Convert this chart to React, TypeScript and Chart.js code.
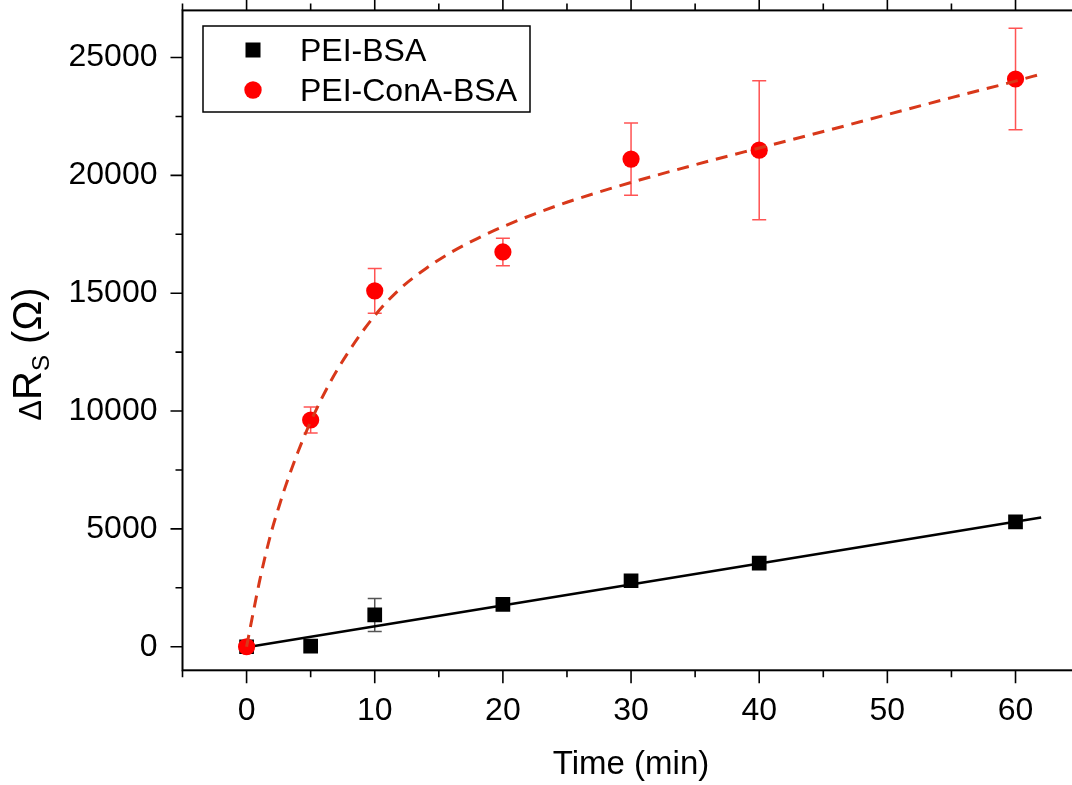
import React, { useEffect, useRef } from "react";
import { Chart, registerables } from "chart.js";

Chart.register(...registerables);

// ---- data ----
const timeMin = [0, 5, 10, 20, 30, 40, 60];
const bsaValues = [0, 30, 1350, 1800, 2800, 3550, 5300];
const bsaErrors = [0, 0, 700, 0, 0, 0, 0];
const conaValues = [0, 9620, 15100, 16750, 20690, 21070, 24090];
const conaErrors = [0, 550, 950, 580, 1530, 2950, 2150];

const bsaFitX = [0, 62];
const bsaFitY = [-20, 5480];
const conaFitX = [0, 0.5, 1, 1.5, 2, 2.5, 3, 4, 5, 6.5, 8, 10, 12, 14, 16, 18, 20, 22.5, 25, 30, 35, 40, 45, 50, 55, 60, 62];
const conaFitY = [0, 1400, 2750, 3950, 5000, 5900, 6750, 8250, 9550, 11200, 12550, 14050, 15200, 16050, 16750, 17320, 17820, 18370, 18860, 19700, 20450, 21160, 21860, 22580, 23300, 24000, 24300];

const xTickValues = [0, 10, 20, 30, 40, 50, 60];
const xMinorTicks = [-5, 5, 15, 25, 35, 45, 55, 65];
const yTickValues = [0, 5000, 10000, 15000, 20000, 25000];
const yMinorTicks = [2500, 7500, 12500, 17500, 22500];

const seriesLabels = ["PEI-BSA", "PEI-ConA-BSA"];
const xTitle = "Time (min)";

const FONT = "'Liberation Sans', Arial, sans-serif";

const decorPlugin = {
  id: "decor",
  beforeDatasetsDraw(chart: any) {
    const ctx = chart.ctx;
    const xs = chart.scales.x;
    const ys = chart.scales.y;
    const drawErr = (vals: number[], errs: number[], color: string) => {
      ctx.save();
      ctx.strokeStyle = color;
      ctx.lineWidth = 1.5;
      timeMin.forEach((t, i) => {
        const e = errs[i];
        if (!e) return;
        const px = xs.getPixelForValue(t);
        const pTop = ys.getPixelForValue(vals[i] + e);
        const pBot = ys.getPixelForValue(vals[i] - e);
        ctx.beginPath();
        ctx.moveTo(px, pTop);
        ctx.lineTo(px, pBot);
        ctx.moveTo(px - 7, pTop);
        ctx.lineTo(px + 7, pTop);
        ctx.moveTo(px - 7, pBot);
        ctx.lineTo(px + 7, pBot);
        ctx.stroke();
      });
      ctx.restore();
    };
    drawErr(bsaValues, bsaErrors, "#555555");
    drawErr(conaValues, conaErrors, "rgba(255,40,40,0.8)");
  },
  afterDraw(chart: any) {
    const ctx = chart.ctx;
    const { left, right, top, bottom } = chart.chartArea;
    const xs = chart.scales.x;
    const ys = chart.scales.y;
    ctx.save();
    ctx.strokeStyle = "#000";
    ctx.lineWidth = 2;
    ctx.strokeRect(left, top, right - left, bottom - top);
    ctx.lineWidth = 1.6;
    ctx.beginPath();
    xTickValues.forEach((v) => {
      const p = xs.getPixelForValue(v);
      ctx.moveTo(p, bottom);
      ctx.lineTo(p, bottom + 13);
      ctx.moveTo(p, top);
      ctx.lineTo(p, top - 13);
    });
    xMinorTicks.forEach((v) => {
      const p = xs.getPixelForValue(v);
      ctx.moveTo(p, bottom);
      ctx.lineTo(p, bottom + 7);
      ctx.moveTo(p, top);
      ctx.lineTo(p, top - 7);
    });
    yTickValues.forEach((v) => {
      const p = ys.getPixelForValue(v);
      ctx.moveTo(left, p);
      ctx.lineTo(left - 12, p);
      ctx.moveTo(right, p);
      ctx.lineTo(right + 12, p);
    });
    yMinorTicks.forEach((v) => {
      const p = ys.getPixelForValue(v);
      ctx.moveTo(left, p);
      ctx.lineTo(left - 7, p);
      ctx.moveTo(right, p);
      ctx.lineTo(right + 7, p);
    });
    ctx.stroke();

    // x title
    ctx.fillStyle = "#000";
    ctx.font = `33px ${FONT}`;
    ctx.textAlign = "center";
    ctx.textBaseline = "alphabetic";
    ctx.fillText(xTitle, (left + right) / 2, 774);

    // y title: ΔR_S (Ω)
    const pieces = [
      { t: "\u0394", size: 31, dy: 0 },
      { t: "R", size: 40, dy: 0 },
      { t: "S", size: 24, dy: 8 },
      { t: " (\u03A9)", size: 40, dy: 0 },
    ];
    let total = 0;
    const widths = pieces.map((p) => {
      ctx.font = `${p.size}px ${FONT}`;
      const w = ctx.measureText(p.t).width;
      total += w;
      return w;
    });
    ctx.save();
    ctx.translate(41, 354);
    ctx.rotate(-Math.PI / 2);
    ctx.textAlign = "left";
    let cx = -total / 2;
    pieces.forEach((p, i) => {
      ctx.font = `${p.size}px ${FONT}`;
      ctx.fillText(p.t, cx, p.dy);
      cx += widths[i];
    });
    ctx.restore();

    // legend
    ctx.lineWidth = 1.5;
    ctx.strokeStyle = "#000";
    ctx.strokeRect(203, 26, 327, 86);
    ctx.fillStyle = "#000";
    ctx.fillRect(253 - 7.5, 50 - 7.5, 15, 15);
    ctx.fillStyle = "#ff0000";
    ctx.beginPath();
    ctx.arc(253, 90, 8.7, 0, Math.PI * 2);
    ctx.fill();
    ctx.fillStyle = "#000";
    ctx.font = `32px ${FONT}`;
    ctx.textAlign = "left";
    ctx.fillText(seriesLabels[0], 300, 61);
    ctx.fillText(seriesLabels[1], 300, 101);
    ctx.restore();
  },
};

const zeroPad = (s: any) => {
  s.paddingTop = 0;
  s.paddingBottom = 0;
  s.paddingLeft = 0;
  s.paddingRight = 0;
};

export default function App() {
  const ref = useRef<HTMLCanvasElement | null>(null);
  useEffect(() => {
    if (!ref.current) return;
    const tickFont = { family: FONT, size: 32 };
    const chart = new Chart(ref.current, {
      type: "scatter",
      data: {
        datasets: [
          {
            label: seriesLabels[0],
            data: timeMin.map((x, i) => ({ x, y: bsaValues[i] })),
            pointStyle: "rect",
            pointRadius: 10.4,
            borderWidth: 0,
            backgroundColor: "#000000",
            borderColor: "#000000",
            showLine: false,
            order: 3,
          },
          {
            label: seriesLabels[1],
            data: timeMin.map((x, i) => ({ x, y: conaValues[i] })),
            pointStyle: "circle",
            pointRadius: 8.6,
            borderWidth: 0,
            backgroundColor: "#ff0000",
            borderColor: "#ff0000",
            showLine: false,
            order: 1,
          },
          {
            label: "fit1",
            data: bsaFitX.map((x, i) => ({ x, y: bsaFitY[i] })),
            showLine: true,
            pointRadius: 0,
            borderColor: "#000000",
            borderWidth: 2.6,
            order: 2,
          },
          {
            label: "fit2",
            data: conaFitX.map((x, i) => ({ x, y: conaFitY[i] })),
            showLine: true,
            pointRadius: 0,
            borderColor: "#d8381a",
            borderWidth: 3,
            borderDash: [12, 8],
            cubicInterpolationMode: "monotone",
            order: 0,
          },
        ],
      },
      options: {
        animation: false,
        responsive: false,
        devicePixelRatio: 1,
        layout: { padding: { top: 7.6, right: 9.2, left: 0, bottom: 0 } },
        plugins: { legend: { display: false }, tooltip: { enabled: false } },
        scales: {
          x: {
            type: "linear",
            min: -5,
            max: 65,
            afterBuildTicks: (s: any) => {
              s.ticks = xTickValues.map((v) => ({ value: v }));
            },
            afterFit: (s: any) => {
              s.height = 114.7;
              zeroPad(s);
            },
            ticks: {
              font: tickFont,
              color: "#000",
              padding: 10,
              autoSkip: false,
              maxRotation: 0,
              callback: (v: any) => String(v),
            },
            grid: { drawOnChartArea: false, color: "rgba(0,0,0,0)", tickLength: 12 },
            border: { display: false },
          },
          y: {
            type: "linear",
            min: -1000,
            max: 27000,
            afterBuildTicks: (s: any) => {
              s.ticks = yTickValues.map((v) => ({ value: v }));
            },
            afterFit: (s: any) => {
              s.width = 182.5;
              zeroPad(s);
            },
            ticks: {
              font: tickFont,
              color: "#000",
              padding: 13,
              autoSkip: false,
              callback: (v: any) => String(v),
            },
            grid: { drawOnChartArea: false, color: "rgba(0,0,0,0)", tickLength: 12 },
            border: { display: false },
          },
        },
      } as any,
      plugins: [decorPlugin],
    });
    return () => chart.destroy();
  }, []);
  return (
    <div
      style={{
        position: "fixed",
        left: 0,
        top: 0,
        width: 1072,
        height: 785,
        overflow: "hidden",
        background: "#fff",
      }}
    >
      <canvas ref={ref} width={1090} height={785} style={{ width: 1090, height: 785, display: "block" }} />
    </div>
  );
}
